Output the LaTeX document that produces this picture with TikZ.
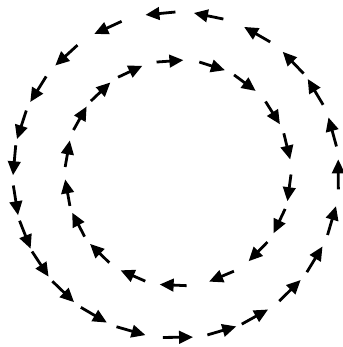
\documentclass[tikz,border=0pt]{standalone}
\usetikzlibrary{arrows.meta}

\begin{document}
\begin{tikzpicture}[x=1pt, y=1pt,
    flow/.style={line width=2.8pt, -{Triangle[length=14pt, width=12.5pt]}}]
    \useasboundingbox (0, 0) rectangle (342, 347);

    % Outer ring, counterclockwise
    \coordinate (outerc) at (176, 172);
    \foreach \a in {270.7, 286.4, 299.1, 314.6, 328.7, 343.7, 0.2, 15.4,
                    30.8, 43.8, 60, 78.4, 95.5, 114.8, 132.5, 148.1,
                    162, 174.8, 189, 201.6, 213.3, 226, 239.6, 253.9}
        \draw[flow, shift={(outerc)}] (\a-5.3:163) -- (\a+5.3:163);

    % Inner ring, clockwise
    \coordinate (innerc) at (178, 174);
    \foreach \a in {94.1, 72.3, 53.4, 32.4, 13.7, 352.4, 334.6, 315.5, 292.8,
                    267.5, 246.3, 225.7, 207.4, 190.1, 170.1, 150.8, 133.6, 115.2}
        \draw[flow, shift={(innerc)}] (\a+6.85:113) -- (\a-6.85:113);
\end{tikzpicture}
\end{document}
